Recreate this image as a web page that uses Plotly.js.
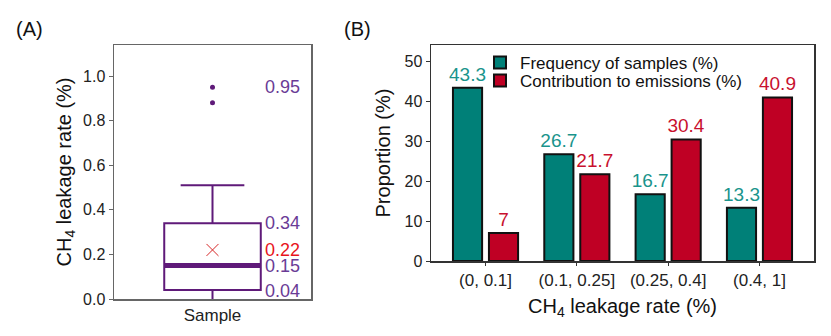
<!DOCTYPE html>
<html>
<head>
<meta charset="utf-8">
<script src="https://cdn.plot.ly/plotly-3.0.1.min.js"></script>
<style>html,body{margin:0;padding:0;background:#fff;}#chart{width:831px;height:336px;}</style>
</head>
<body>
<div id="chart"></div>
<script>
// Panel A: box statistics
const boxCategory = ['Sample'];
const boxQ1 = [0.04];
const boxMedian = [0.15];
const boxQ3 = [0.34];
const boxLowerFence = [-0.02];
const boxUpperFence = [0.51];
const boxMean = [0.22];
const boxOutliers = [0.95, 0.88];

// Panel B: bars
const bins = ['(0, 0.1]', '(0.1, 0.25]', '(0.25, 0.4]', '(0.4, 1]'];
const freqSamples = [43.3, 26.7, 16.7, 13.3];
const contribEmissions = [7, 21.7, 30.4, 40.9];
const freqLabels = ['43.3', '26.7', '16.7', '13.3'];
const contribLabels = ['7', '21.7', '30.4', '40.9'];

const purple = '#5f1a79';
const purpleText = '#6a3b96';
const font = 'Liberation Sans, Arial, sans-serif';

const traces = [
  {
    type: 'box', x: [0], q1: boxQ1, median: boxMedian, q3: boxQ3,
    lowerfence: boxLowerFence, upperfence: boxUpperFence,
    width: 0.49, whiskerwidth: 0.66,
    line: {color: purple, width: 2}, fillcolor: 'rgba(255,255,255,0)',
    xaxis: 'x', yaxis: 'y', showlegend: false, hoverinfo: 'skip'
  },
  {
    type: 'scatter', mode: 'lines', x: [-0.245, 0.245], y: [boxMedian[0], boxMedian[0]],
    line: {color: purple, width: 5}, xaxis: 'x', yaxis: 'y', showlegend: false, hoverinfo: 'skip'
  },
  {
    type: 'scatter', mode: 'markers', x: boxOutliers.map(() => 0), y: boxOutliers,
    marker: {color: purple, size: 5}, xaxis: 'x', yaxis: 'y', showlegend: false, hoverinfo: 'skip'
  },
  {
    type: 'scatter', mode: 'markers', x: [0], y: boxMean,
    marker: {symbol: 'x-thin-open', size: 12, line: {color: '#f58c8c', width: 1}},
    xaxis: 'x', yaxis: 'y', showlegend: false, hoverinfo: 'skip'
  },
  {
    type: 'bar', name: 'Frequency of samples (%)', x: bins, y: freqSamples,
    text: freqLabels, textposition: 'outside', cliponaxis: false, constraintext: 'none',
    textfont: {color: '#1a948c', size: 19, family: font},
    marker: {color: '#008078', line: {color: '#111', width: 2}},
    xaxis: 'x2', yaxis: 'y2', hoverinfo: 'skip', legend: 'legend'
  },
  {
    type: 'bar', name: 'Contribution to emissions (%)', x: bins, y: contribEmissions,
    text: contribLabels, textposition: 'outside', cliponaxis: false, constraintext: 'none',
    textfont: {color: '#c8102e', size: 19, family: font},
    marker: {color: '#bf0024', line: {color: '#111', width: 2}},
    xaxis: 'x2', yaxis: 'y2', hoverinfo: 'skip', legend: 'legend2'
  }
];

const axisCommon = {
  showline: true, mirror: true, linecolor: '#666', linewidth: 1.5,
  ticks: 'outside', ticklen: 4, tickcolor: '#666', showgrid: false, zeroline: false,
  tickfont: {family: font, size: 16, color: '#222'}
};

const annFont = {family: font, size: 18, color: purpleText};
const annotations = [
  {text: '(A)', x: 14/831, y: 1 - 29/336, xref: 'paper', yref: 'paper', xanchor: 'left', yanchor: 'middle', showarrow: false, font: {family: font, size: 20, color: '#111'}},
  {text: '(B)', x: 342/831, y: 1 - 29/336, xref: 'paper', yref: 'paper', xanchor: 'left', yanchor: 'middle', showarrow: false, font: {family: font, size: 20, color: '#111'}},
  {text: '0.95', x: 0.255, y: 0.95, xref: 'x', yref: 'y', xanchor: 'left', yanchor: 'middle', showarrow: false, font: annFont},
  {text: '0.34', x: 0.255, y: 0.34, xref: 'x', yref: 'y', xanchor: 'left', yanchor: 'middle', showarrow: false, font: annFont},
  {text: '0.22', x: 0.255, y: 0.22, xref: 'x', yref: 'y', xanchor: 'left', yanchor: 'middle', showarrow: false, font: {family: font, size: 18, color: '#e8141c'}},
  {text: '0.15', x: 0.255, y: 0.15, xref: 'x', yref: 'y', xanchor: 'left', yanchor: 'middle', showarrow: false, font: annFont},
  {text: '0.04', x: 0.255, y: 0.035, xref: 'x', yref: 'y', xanchor: 'left', yanchor: 'middle', showarrow: false, font: annFont}
];

const legendCommon = {
  xanchor: 'left', yanchor: 'middle',
  bgcolor: 'rgba(0,0,0,0)', borderwidth: 0,
  font: {family: font, size: 17, color: '#111'},
  itemwidth: 30
};

const layout = {
  width: 831, height: 336,
  margin: {l: 0, r: 0, t: 0, b: 0},
  paper_bgcolor: '#fff', plot_bgcolor: '#fff',
  font: {family: font, color: '#222'},
  showlegend: true,
  barmode: 'group', bargap: 0.212, bargroupgap: 0.19,
  xaxis: Object.assign({}, axisCommon, {
    domain: [114/831, 311/831], range: [-0.5, 0.5],
    tickvals: [0], ticktext: boxCategory, ticks: '',
    tickfont: {family: font, size: 17, color: '#222'}, anchor: 'y'
  }),
  yaxis: Object.assign({}, axisCommon, {
    domain: [37/336, 291/336], range: [0, 1.139],
    tickvals: [0, 0.2, 0.4, 0.6, 0.8, 1.0], ticktext: ['0.0', '0.2', '0.4', '0.6', '0.8', '1.0'],
    title: {text: 'CH<sub>4</sub> leakage rate (%)', font: {family: font, size: 20, color: '#111'}, standoff: 6},
    anchor: 'x'
  }),
  xaxis2: Object.assign({}, axisCommon, {
    domain: [431/831, 814/831], range: [-0.597, 3.597], ticklen: 3,
    linecolor: '#333', tickcolor: '#333',
    tickfont: {family: font, size: 17, color: '#222'},
    title: {text: 'CH<sub>4</sub> leakage rate (%)', font: {family: font, size: 20, color: '#111'}, standoff: 10},
    anchor: 'y2'
  }),
  yaxis2: Object.assign({}, axisCommon, {
    domain: [75/336, 291/336], range: [0, 54],
    linecolor: '#333', tickcolor: '#333',
    tickvals: [0, 10, 20, 30, 40, 50],
    title: {text: 'Proportion (%)', font: {family: font, size: 20, color: '#111'}, standoff: 8},
    anchor: 'x2'
  }),
  legend: Object.assign({}, legendCommon, {x: 480/831, y: 1 - 63/336}),
  legend2: Object.assign({}, legendCommon, {x: 480/831, y: 1 - 81/336}),
  annotations: annotations
};

Plotly.newPlot('chart', traces, layout, {displayModeBar: false, staticPlot: true});
</script>
</body>
</html>
